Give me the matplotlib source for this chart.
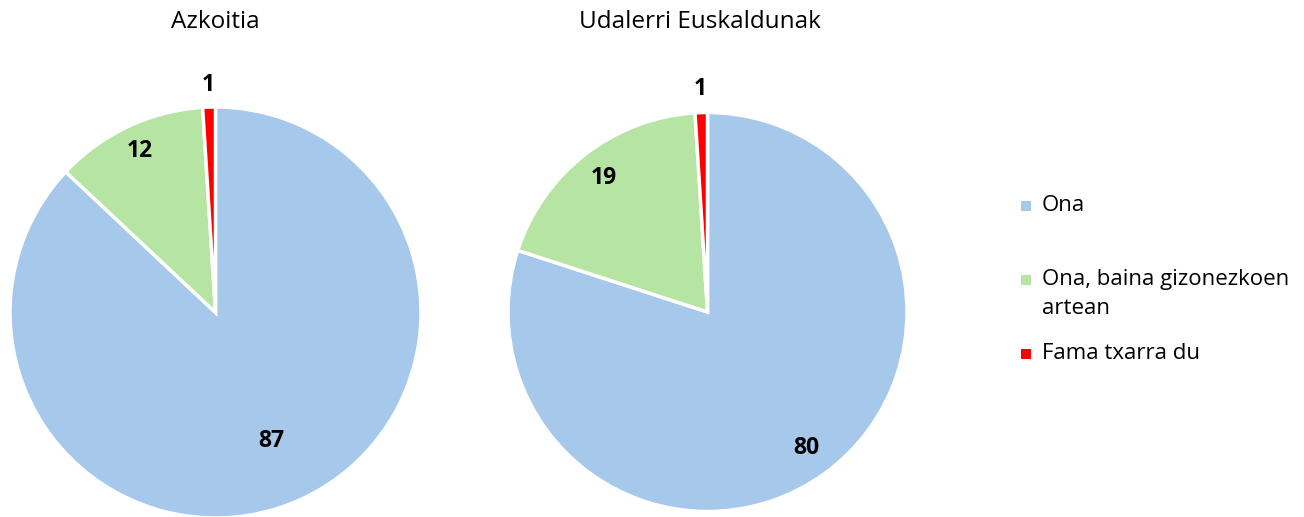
import numpy as np
import matplotlib
matplotlib.use('Agg')
from matplotlib import pyplot as plt
from matplotlib.patches import Rectangle

plt.rcParams['font.family'] = ['Open Sans', 'DejaVu Sans']

categories = ['Ona', 'Ona, baina gizonezkoen\nartean', 'Fama txarra du']
titles = ['Azkoitia', 'Udalerri Euskaldunak']
azkoitia = [87, 12, 1]
euskaldunak = [80, 19, 1]
colors = ['#A6C8EB', '#B5E4A3', '#FF0000']

W, H = 1304, 517
fig = plt.figure(figsize=(W / 100, H / 100), dpi=100)


def drawPie(cx, cy, r, values, title, titleX, labelDist):
    ax = fig.add_axes([(cx - r) / W, (H - cy - r) / H, 2 * r / W, 2 * r / H])
    wedges, _ = ax.pie(values, colors=colors, startangle=90, counterclock=False,
                       radius=1.0, wedgeprops=dict(edgecolor='white', linewidth=2.5))
    for w, v, d in zip(wedges, values, labelDist):
        ang = np.deg2rad((w.theta1 + w.theta2) / 2)
        ax.text(d * np.cos(ang), d * np.sin(ang), str(v), ha='center', va='center',
                fontsize=16.5, fontweight='bold', color='black')
    ax.set_xlim(-1, 1)
    ax.set_ylim(-1, 1)
    ax.set_aspect('equal')
    ax.axis('off')
    for p in ax.patches:
        p.set_clip_on(False)
    fig.text(titleX / W, 1 - 22 / H, title, ha='center', va='center', fontsize=17.5)


drawPie(215.5, 312.5, 205.5, azkoitia, titles[0], 215, [0.68, 0.87, 1.11])
drawPie(707.5, 312.0, 199.5, euskaldunak, titles[1], 700, [0.84, 0.85, 1.12])

# legend drawn by hand to keep Excel-like uneven spacing
legendY = [207, 281, 355]
for y, c, lab in zip(legendY, colors, categories):
    fig.patches.append(Rectangle((1021 / W, 1 - (y + 4) / H), 10 / W, 10 / H,
                                 transform=fig.transFigure, facecolor=c, edgecolor='none'))
    fig.text(1042 / W, 1 - (y - 12) / H, lab, ha='left', va='top', fontsize=16,
             linespacing=1.5)

fig.savefig('out.png', dpi=100)
